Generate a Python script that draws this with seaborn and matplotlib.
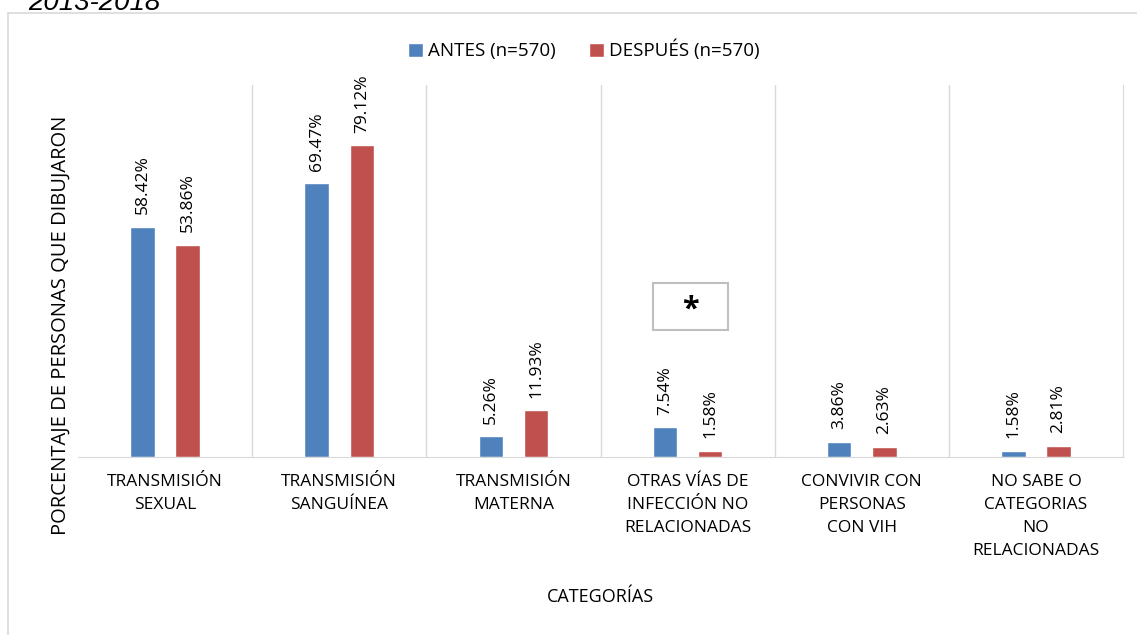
import pandas as pd
import matplotlib.pyplot as plt
import seaborn as sns

# Categories and percentages
categorias = ['TRANSMISIÓN\nSEXUAL', 'TRANSMISIÓN\nSANGUÍNEA', 'TRANSMISIÓN\nMATERNA',
              'OTRAS VÍAS DE\nINFECCIÓN NO\nRELACIONADAS', 'CONVIVIR CON\nPERSONAS\nCON VIH',
              'NO SABE O\nCATEGORIAS\nNO\nRELACIONADAS']
antes = [58.42, 69.47, 5.26, 7.54, 3.86, 1.58]
despues = [53.86, 79.12, 11.93, 1.58, 2.63, 2.81]
series = ['ANTES (n=570)', 'DESPUÉS (n=570)']
colores = ['#4F81BD', '#C0504D']

# long format for seaborn
df = pd.DataFrame({
    'categoria': categorias * 2,
    'grupo': [series[0]] * len(antes) + [series[1]] * len(despues),
    'valor': antes + despues,
})

sns.set_style('white')
plt.rcParams['font.family'] = ['Open Sans', 'DejaVu Sans']
plt.rcParams['text.color'] = 'black'
plt.rcParams['xtick.color'] = 'black'

fig = plt.figure(figsize=(11.37, 6.35), dpi=100)
ax = fig.add_axes([0.0686, 0.2803, 0.9191, 0.5857])

sns.barplot(data=df, x='categoria', y='valor', hue='grupo', palette=colores,
            saturation=1, width=0.52, gap=0.46, ax=ax, legend=True)

ax.set_ylim(0, 94.4)
ax.set_xlim(-0.5, len(categorias) - 0.5)
ax.set_yticks([])
ax.set_ylabel('')
ax.set_xlabel('')

# value labels, rotated
for cont in ax.containers:
    ax.bar_label(cont, labels=[f'{v:.2f}%' for v in cont.datavalues],
                 rotation=90, padding=9, fontsize=12.5, color='black')

# light vertical separators between categories
for i in range(1, len(categorias)):
    ax.axvline(i - 0.5, color='#D9D9D9', lw=1, zorder=0)
for side in ['top', 'left']:
    ax.spines[side].set_visible(False)
ax.spines['right'].set_color('#D9D9D9')
ax.spines['bottom'].set_color('#D9D9D9')

ax.tick_params(axis='x', length=0, pad=12, colors='black')
for lab in ax.get_xticklabels():
    lab.set_fontsize(12.5)
    lab.set_linespacing(1.6)
    lab.set_ha('center')

# legend on top
leg = ax.legend(loc='center', bbox_to_anchor=(0.484, 1.094), ncol=2, frameon=False,
                fontsize=13.5, handlelength=0.8, handleheight=0.8, columnspacing=1.8,
                handletextpad=0.25)

# significance box
box = plt.Rectangle((2.80, 32.2), 0.43, 12.0, fill=False, ec='#BFBFBF', lw=1.5, zorder=5)
ax.add_patch(box)
ax.text(3.015, 37.3, '*', ha='center', va='center', fontsize=22, fontweight='bold')

fig.text(0.053, 0.488, 'PORCENTAJE DE PERSONAS QUE DIBUJARON', rotation=90,
         ha='center', va='center', fontsize=14.5)
fig.text(0.528, 0.06, 'CATEGORÍAS', ha='center', va='center', fontsize=13)

# outer frame and cut-off title
frame = plt.Rectangle((0.007, -0.05), 1.1, 1.03, transform=fig.transFigure,
                      fill=False, ec='#D9D9D9', lw=1.2)
fig.add_artist(frame)
fig.text(0.025, 0.995, '2013-2018', ha='left', va='center', fontsize=20,
         style='italic', family=['Liberation Sans', 'DejaVu Sans'])

fig.savefig('out.png', dpi=100)
